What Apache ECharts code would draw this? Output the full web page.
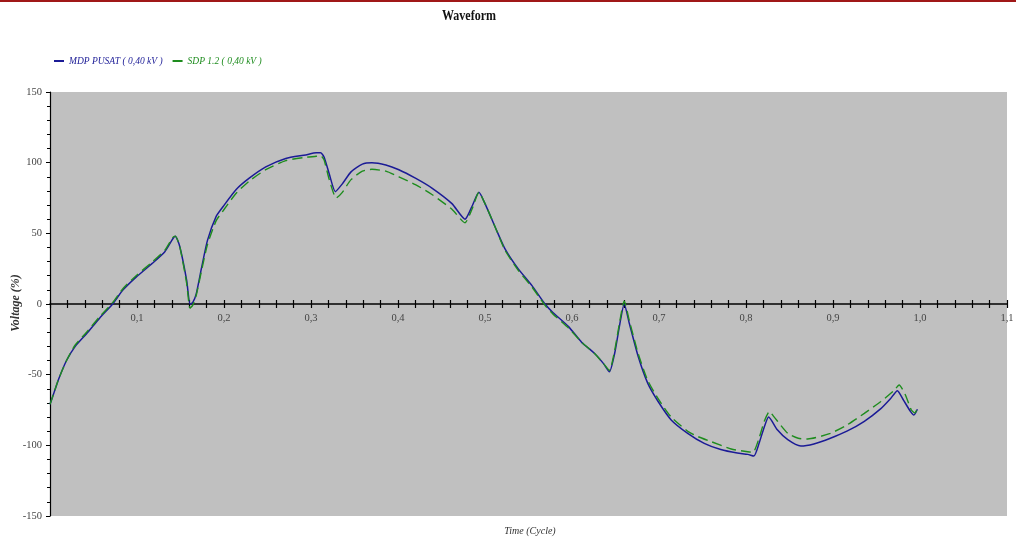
<!DOCTYPE html>
<html>
<head>
<meta charset="utf-8">
<script src="https://cdn.jsdelivr.net/npm/echarts@6/dist/echarts.min.js"></script>
<style>html,body{margin:0;padding:0;background:#fff}#c{width:1016px;height:543px}</style>
</head>
<body>
<div id="c"></div>
<script>
var titleText = 'Waveform';
var seriesNames = ['MDP PUSAT ( 0,40 kV )', 'SDP 1.2 ( 0,40 kV )'];
var xAxisName = 'Time (Cycle)';
var yAxisName = 'Voltage (%)';

var blueX = [0.000,0.005,0.010,0.019,0.029,0.042,0.057,0.072,0.084,0.099,0.118,0.132,0.141,0.144,0.149,0.157,0.161,0.164,0.168,0.174,0.181,0.191,0.199,0.214,0.229,0.248,0.271,0.294,0.306,0.311,0.315,0.321,0.328,0.336,0.346,0.359,0.370,0.386,0.401,0.420,0.439,0.462,0.477,0.485,0.493,0.500,0.512,0.523,0.538,0.554,0.569,0.578,0.596,0.611,0.626,0.636,0.643,0.649,0.655,0.660,0.666,0.676,0.687,0.699,0.714,0.733,0.752,0.771,0.790,0.802,0.809,0.815,0.821,0.826,0.836,0.848,0.863,0.878,0.897,0.916,0.936,0.955,0.966,0.974,0.981,0.989,0.993,0.997];
var blueY = [-71,-62,-53,-40,-30,-21,-10,0,10,19,29,37,46,48,41,17,0,1,7,25,45,62,69,81,89,97,103,105.5,107,107,104,92,79.5,85,93.5,99,100,98.4,95,89,82,71,60,69,79,71,54,39,25,13,0,-6,-16,-27,-35,-42,-48,-35,-14,0,-14,-37,-56,-69,-82,-91.5,-98.6,-103,-105.5,-106.4,-107.6,-98.6,-87,-80,-89,-96,-100.5,-99,-95,-90,-83,-74,-67,-61.3,-68,-76,-78.6,-74.5];

var greenX = [0.000,0.005,0.010,0.019,0.029,0.042,0.057,0.072,0.084,0.099,0.118,0.132,0.141,0.144,0.149,0.157,0.161,0.164,0.168,0.174,0.181,0.191,0.199,0.214,0.229,0.248,0.271,0.294,0.306,0.311,0.315,0.321,0.329,0.336,0.346,0.359,0.370,0.386,0.401,0.420,0.439,0.462,0.477,0.485,0.493,0.500,0.512,0.523,0.538,0.554,0.569,0.578,0.596,0.611,0.626,0.636,0.643,0.649,0.655,0.660,0.666,0.676,0.687,0.699,0.714,0.733,0.745,0.760,0.783,0.802,0.808,0.815,0.821,0.827,0.832,0.848,0.860,0.871,0.897,0.916,0.936,0.955,0.970,0.976,0.983,0.990,0.994,0.998];
var greenY = [-71,-62,-53,-40,-29,-20,-9,1,11,20,30,38,47,48,41,15,-3,-1,6,23,42,59,66,78.3,87,95,101.4,103.8,104.5,105,102,88,75,79,88,94,95.3,94,90,84.5,77.5,67,57.5,67,79,71,54,38,24,12,-1,-7,-17,-27,-35,-42,-47,-33,-12,2,-12,-35,-54,-67,-80,-90,-93.9,-97.4,-102.6,-104.5,-105,-95,-83,-76,-79.7,-91.5,-95,-95.5,-91.5,-85.6,-77.4,-69,-61.3,-57.3,-64,-75,-77,-73];

var blueColor = '#1b1b96';
var greenColor = '#1e8c1e';

function pairs(xs, ys) { return xs.map(function (x, i) { return [x, ys[i]]; }); }

var chart = echarts.init(document.getElementById('c'), null, { renderer: 'canvas' });
var serif = '"Liberation Serif", "DejaVu Serif", serif';

var gridTop = 92, gridBottom = 27, chartH = 543;
var zeroOffset = -((chartH - gridTop - gridBottom) / 2);

var xCommon = {
  type: 'value', min: 0, max: 1.1, interval: 0.1, position: 'bottom', offset: zeroOffset,
  splitLine: { show: false }
};

chart.setOption({
  backgroundColor: '#ffffff',
  animation: false,
  grid: { left: 50, right: 9, top: gridTop, bottom: gridBottom, show: true, backgroundColor: '#c0c0c0', borderWidth: 0, containLabel: false, outerBoundsMode: 'none' },
  legend: {
    left: 49, top: 51, icon: 'rect', itemWidth: 10, itemHeight: 2, itemGap: 10,
    textStyle: { fontFamily: serif, fontStyle: 'italic', fontSize: 9.5 },
    data: [
      { name: seriesNames[0], textStyle: { color: blueColor } },
      { name: seriesNames[1], textStyle: { color: greenColor } }
    ]
  },
  xAxis: [
    Object.assign({}, xCommon, {
      axisLine: { show: true, onZero: false, lineStyle: { color: '#000', width: 1.5 } },
      axisTick: { show: true, inside: false, length: 4, lineStyle: { color: '#000', width: 1.2 } },
      minorTick: { show: true, splitNumber: 5, length: 4, lineStyle: { color: '#000', width: 1.2 } },
      axisLabel: {
        show: true, margin: 9, color: '#444', fontFamily: serif, fontSize: 10.5,
        formatter: function (v) { return Math.abs(v) < 1e-9 ? '' : v.toFixed(1).replace('.', ','); }
      }
    }),
    Object.assign({}, xCommon, {
      axisLine: { show: false, onZero: false },
      axisTick: { show: true, inside: true, length: 4, lineStyle: { color: '#000', width: 1.2 } },
      minorTick: { show: true, splitNumber: 5, length: 4, lineStyle: { color: '#000', width: 1.2 } },
      axisLabel: { show: false }
    })
  ],
  yAxis: {
    type: 'value', min: -150, max: 150, interval: 50,
    axisLine: { show: true, onZero: false, lineStyle: { color: '#000', width: 1.2 } },
    axisTick: { show: true, length: 4, lineStyle: { color: '#000' } },
    minorTick: { show: true, splitNumber: 5, length: 3, lineStyle: { color: '#000' } },
    axisLabel: { color: '#444', fontFamily: serif, fontSize: 10.5, margin: 8 },
    splitLine: { show: false }
  },
  graphic: [
    { type: 'rect', left: 0, top: 0, shape: { width: 1016, height: 2 }, style: { fill: '#a01818' } },
    { type: 'text', x: 469, y: 16, scaleX: 0.8,
      style: { text: titleText, fill: '#111', font: 'bold 15px ' + serif, textAlign: 'center', textVerticalAlign: 'middle' } },
    { type: 'text', x: 530, y: 531,
      style: { text: xAxisName, fill: '#333', font: 'italic 10px ' + serif, textAlign: 'center', textVerticalAlign: 'middle' } },
    { type: 'text', x: 16, y: 303, rotation: Math.PI / 2,
      style: { text: yAxisName, fill: '#333', font: 'italic bold 12px ' + serif, textAlign: 'center', textVerticalAlign: 'middle' } }
  ],
  series: [
    { name: seriesNames[0], type: 'line', xAxisIndex: 0, data: pairs(blueX, blueY), showSymbol: false, smooth: 0.2,
      color: blueColor, lineStyle: { color: blueColor, width: 1.5 }, z: 3 },
    { name: seriesNames[1], type: 'line', xAxisIndex: 0, data: pairs(greenX, greenY), showSymbol: false, smooth: 0.2,
      color: greenColor, lineStyle: { color: greenColor, width: 1.4, type: [10, 5] }, z: 4 }
  ]
});
</script>
</body>
</html>
